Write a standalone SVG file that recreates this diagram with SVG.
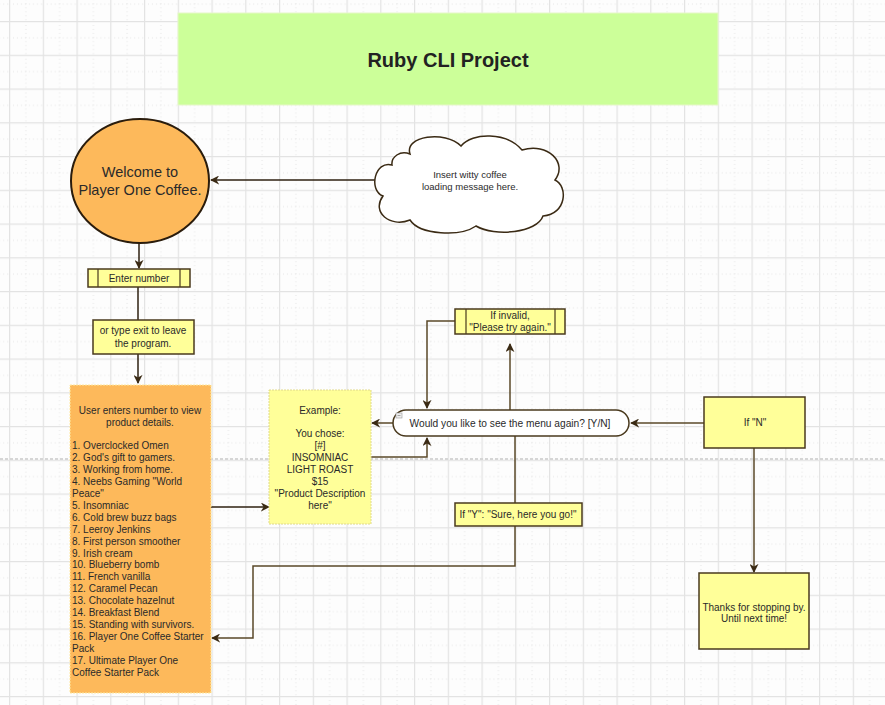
<svg xmlns="http://www.w3.org/2000/svg" width="885" height="705" viewBox="0 0 885 705">
<defs>
<pattern id="grid" patternUnits="userSpaceOnUse" x="9" y="21" width="33.75" height="33.75">
<path d="M16.9,0V33.75M0,16.9H33.75" stroke="#e4e4e4" stroke-width="1" stroke-dasharray="1 3" fill="none"/>
<path d="M0.5,0V33.75M0,0.5H33.75" stroke="#e3e3e3" stroke-width="1.4" fill="none"/>
</pattern>
<marker id="ah" viewBox="0 0 10 10" refX="9" refY="5" markerWidth="9" markerHeight="9" markerUnits="userSpaceOnUse" orient="auto">
<path d="M0,0L10,5L0,10L3,5Z" fill="#3a2a14"/>
</marker>
<style>
text{font-family:"Liberation Sans",Arial,sans-serif;fill:#2a2a2a;}
.s{font-size:10px;}
.c{text-anchor:middle;}
.yb{fill:#ffff99;stroke:#4a3a1e;stroke-width:1.5;}
.yd{fill:#ffff99;stroke:#e0d98a;stroke-width:1;stroke-dasharray:2 1;}
.cn{fill:none;stroke:#5a4828;stroke-width:1.5;}
.cd{fill:none;stroke:#2e2010;stroke-width:1.5;}
</style>
</defs>
<rect width="885" height="705" fill="#fdfdfd"/>
<rect width="885" height="705" fill="url(#grid)"/>
<line x1="0" y1="459" x2="885" y2="459" stroke="#d6d6d6" stroke-width="2" stroke-dasharray="3 2"/>

<g id="connectors">
<path class="cd" d="M383,180H211" marker-end="url(#ah)"/>
<path class="cd" d="M139,243V268" marker-end="url(#ah)"/>
<path class="cd" d="M138,287V320"/>
<path class="cd" d="M138,354V383" marker-end="url(#ah)"/>
<path class="cd" d="M211,507H269" marker-end="url(#ah)"/>
<path class="cn" d="M393,423H372" marker-end="url(#ah)"/>
<path class="cn" d="M371,457H427V438" marker-end="url(#ah)"/>
<path class="cn" d="M456,321H427V408" marker-end="url(#ah)"/>
<path class="cn" d="M510,410V344" marker-end="url(#ah)"/>
<path class="cn" d="M704,423H631" marker-end="url(#ah)"/>
<path class="cn" d="M754,448V572" marker-end="url(#ah)"/>
<path class="cn" d="M515,436V503"/>
<path class="cn" d="M515,526V566H253V638H212" marker-end="url(#ah)"/>
</g>

<g id="title">
<rect x="178" y="13" width="540" height="92" fill="#ccff99" stroke="#e6f7c8" stroke-width="1"/>
<text x="448" y="67" class="c" font-size="20" font-weight="bold" style="fill:#222">Ruby CLI Project</text>
</g>

<g id="welcome">
<ellipse cx="140" cy="181" rx="69" ry="62" fill="#fdb95b" stroke="#2a1c0c" stroke-width="2"/>
<text x="140" y="177" class="c" font-size="14.5">Welcome to</text>
<text x="140" y="195" class="c" font-size="14.5">Player One Coffee.</text>
</g>

<g id="cloud">
<path d="M392,165C375,160 368,190 383,196C371,212 390,228 410,220C420,235 460,237 476,226C495,237 537,233 543,216C567,214 568,186 555,180C568,163 548,142 522,150C507,132 472,132 461,146C445,130 404,136 410,154C400,150 391,157 392,165Z" fill="#ffffff" stroke="#3a2a14" stroke-width="1.5"/>
<text x="470" y="178" class="c" font-size="9.5">Insert witty coffee</text>
<text x="470" y="190" class="c" font-size="9.5">loading message here.</text>
</g>

<g id="enter-number">
<rect x="88" y="269" width="102" height="18" class="yb"/>
<path d="M98,269V287M180,269V287" stroke="#4a3a1e" stroke-width="1.2"/>
<text x="139" y="282" class="c s">Enter number</text>
</g>

<g id="exit-note">
<rect x="93" y="320" width="101" height="34" class="yb"/>
<text x="143" y="334" class="c s">or type exit to leave</text>
<text x="143" y="347" class="c s">the program.</text>
</g>

<g id="product-list">
<rect x="70" y="385" width="141" height="308" fill="#fdb95b" stroke="#ffe9a0" stroke-width="1" stroke-dasharray="2 1"/>
<text x="140" y="414" class="c s">User enters number to view</text>
<text x="140" y="426" class="c s">product details.</text>
<text class="s" x="72" y="449">1. Overclocked Omen</text>
<text class="s" x="72" y="461">2. God's gift to gamers.</text>
<text class="s" x="72" y="473">3. Working from home.</text>
<text class="s" x="72" y="485">4. Neebs Gaming "World</text>
<text class="s" x="72" y="497">Peace"</text>
<text class="s" x="72" y="509">5. Insomniac</text>
<text class="s" x="72" y="521">6. Cold brew buzz bags</text>
<text class="s" x="72" y="533">7. Leeroy Jenkins</text>
<text class="s" x="72" y="545">8. First person smoother</text>
<text class="s" x="72" y="557">9. Irish cream</text>
<text class="s" x="72" y="568">10. Blueberry bomb</text>
<text class="s" x="72" y="580">11. French vanilla</text>
<text class="s" x="72" y="592">12. Caramel Pecan</text>
<text class="s" x="72" y="604">13. Chocolate hazelnut</text>
<text class="s" x="72" y="616">14. Breakfast Blend</text>
<text class="s" x="72" y="628">15. Standing with survivors.</text>
<text class="s" x="72" y="640">16. Player One Coffee Starter</text>
<text class="s" x="72" y="652">Pack</text>
<text class="s" x="72" y="664">17. Ultimate Player One</text>
<text class="s" x="72" y="676">Coffee Starter Pack</text>
</g>

<g id="example">
<rect x="269" y="390" width="102" height="134" class="yd"/>
<text x="320" y="414" class="c s">Example:</text>
<text x="320" y="437" class="c s">You chose:</text>
<text x="320" y="449" class="c s">[#]</text>
<text x="320" y="461" class="c s">INSOMNIAC</text>
<text x="320" y="473" class="c s">LIGHT ROAST</text>
<text x="320" y="485" class="c s">$15</text>
<text x="320" y="497" class="c s">"Product Description</text>
<text x="320" y="509" class="c s">here"</text>
</g>

<g id="menu-again">
<rect x="393" y="410" width="236" height="26" rx="13" ry="13" fill="#ffffff" stroke="#4a3a1e" stroke-width="1.5"/>
<rect x="396" y="413" width="6" height="5" fill="#eeeeee" stroke="#999999" stroke-width="0.6"/>
<path d="M397.5,415.5H400.5" stroke="#777" stroke-width="0.6"/>
<text x="510" y="427" class="c" font-size="10.2">Would you like to see the menu again? [Y/N]</text>
</g>

<g id="invalid">
<rect x="455" y="309" width="110" height="25" class="yb"/>
<path d="M466,309V334M555,309V334" stroke="#4a3a1e" stroke-width="1.2"/>
<text x="510" y="319" class="c s">If invalid,</text>
<text x="510" y="331" class="c s">"Please try again."</text>
</g>

<g id="if-n">
<rect x="704" y="397" width="101" height="51" class="yb"/>
<text x="755" y="426" class="c s">If "N"</text>
</g>

<g id="thanks">
<rect x="699" y="573" width="110" height="76" class="yb"/>
<text x="754" y="611" class="c s">Thanks for stopping by.</text>
<text x="754" y="622" class="c s">Until next time!</text>
</g>

<g id="if-y">
<rect x="455" y="503" width="127" height="23" class="yb"/>
<text x="518" y="518" class="c s">If "Y": "Sure, here you go!"</text>
</g>
</svg>
